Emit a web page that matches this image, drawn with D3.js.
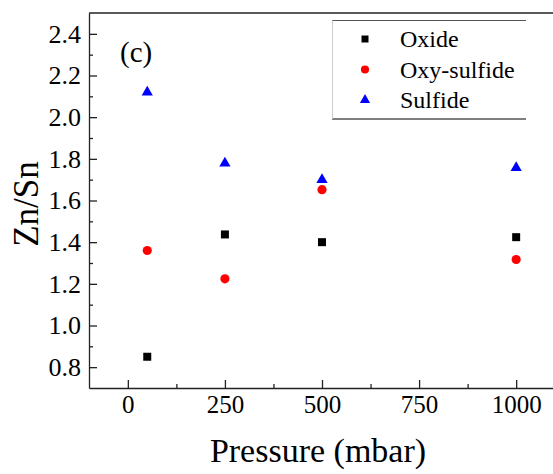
<!DOCTYPE html>
<html>
<head>
<meta charset="utf-8">
<script src="https://cdn.jsdelivr.net/npm/d3@7"></script>
<style>
  body { margin: 0; background: #fff; }
</style>
</head>
<body>
<div id="chart"></div>
<script>
// pressure (mbar) of each sample
var pressures = [50, 250, 500, 1000];
// Zn/Sn ratios
var oxide = [0.85, 1.437, 1.40, 1.424];
var oxySulfide = [1.36, 1.224, 1.652, 1.317];
var sulfide = [2.12, 1.779, 1.70, 1.757];

var seriesNames = ["Oxide", "Oxy-sulfide", "Sulfide"];
var seriesColors = ["#000000", "#ff0000", "#0000ff"];
var xTicks = [0, 250, 500, 750, 1000];
var xMinor = [125, 375, 625, 875];
var yTicks = [0.8, 1.0, 1.2, 1.4, 1.6, 1.8, 2.0, 2.2, 2.4];
var yMinor = [0.9, 1.1, 1.3, 1.5, 1.7, 1.9, 2.1, 2.3];

var serif = "Liberation Serif, DejaVu Serif, serif";

function init() {
    var w = 553;
    var h = 474;
    var left = 89, right = 555, top = 13, bottom = 388;

    var svg = d3.select("#chart")
        .append("svg")
        .attr("width", w)
        .attr("height", h)
        .attr("font-family", serif);

    var xScale = d3.scaleLinear().domain([-100, 1100]).range([left, right]);
    var yScale = d3.scaleLinear().domain([0.7, 2.5]).range([bottom, top]);

    // minor ticks first, under the axes
    svg.append("g")
        .attr("transform", `translate(0, ${bottom})`)
        .call(d3.axisBottom(xScale).tickValues(xMinor).tickSizeInner(-4).tickSizeOuter(0).tickFormat(""))
        .call(g => g.select(".domain").remove())
        .selectAll("line").attr("stroke", "#222").attr("stroke-width", 1.3);

    svg.append("g")
        .attr("transform", `translate(${left}, 0)`)
        .call(d3.axisLeft(yScale).tickValues(yMinor).tickSizeInner(-4).tickSizeOuter(0).tickFormat(""))
        .call(g => g.select(".domain").remove())
        .selectAll("line").attr("stroke", "#222").attr("stroke-width", 1.3);

    var xAxis = svg.append("g")
        .attr("transform", `translate(0, ${bottom})`)
        .call(d3.axisBottom(xScale).tickValues(xTicks).tickSizeInner(-8).tickSizeOuter(0).tickPadding(7)
            .tickFormat(d3.format("d")));
    xAxis.attr("font-family", serif).attr("font-size", 25);

    var yAxis = svg.append("g")
        .attr("transform", `translate(${left}, 0)`)
        .call(d3.axisLeft(yScale).tickValues(yTicks).tickSizeInner(-8).tickSizeOuter(0).tickPadding(8)
            .tickFormat(d3.format(".1f")));
    yAxis.attr("font-family", serif).attr("font-size", 26);

    svg.selectAll(".domain, .tick line").attr("stroke", "#222").attr("stroke-width", 1.3);

    // top frame line
    svg.append("line")
        .attr("x1", left).attr("x2", right)
        .attr("y1", top).attr("y2", top)
        .attr("stroke", "#222").attr("stroke-width", 1.3);

    // data points
    var allSeries = [oxide, oxySulfide, sulfide];
    var symbols = [
        d3.symbol().type(d3.symbolSquare).size(64),
        d3.symbol().type(d3.symbolCircle).size(66),
        d3.symbol().type(d3.symbolTriangle).size(55)
    ];

    allSeries.forEach((vals, i) => {
        svg.append("g")
            .selectAll("path")
            .data(vals)
            .enter()
            .append("path")
            .attr("d", symbols[i])
            .attr("transform", (d, j) => `translate(${xScale(pressures[j])}, ${yScale(d)})`)
            .attr("fill", seriesColors[i]);
    });

    // panel label
    svg.append("text")
        .attr("x", 120)
        .attr("y", 62)
        .attr("font-size", 29)
        .text("(c)");

    // legend
    var legend = svg.append("g");
    legend.append("line")
        .attr("x1", 332).attr("x2", 526).attr("y1", 20.5).attr("y2", 20.5)
        .attr("stroke", "#555").attr("stroke-width", 1);
    legend.append("line")
        .attr("x1", 332).attr("x2", 526).attr("y1", 119).attr("y2", 119)
        .attr("stroke", "#000").attr("stroke-width", 1.2);
    legend.append("line")
        .attr("x1", 332.5).attr("x2", 332.5).attr("y1", 20.5).attr("y2", 119)
        .attr("stroke", "#ccc").attr("stroke-width", 1);

    var legendSymbols = [
        d3.symbol().type(d3.symbolSquare).size(49),
        d3.symbol().type(d3.symbolCircle).size(52),
        d3.symbol().type(d3.symbolTriangle).size(45)
    ];
    seriesNames.forEach((name, i) => {
        var yy = 39 + i * 30.5;
        legend.append("path")
            .attr("d", legendSymbols[i])
            .attr("transform", `translate(365, ${yy})`)
            .attr("fill", seriesColors[i]);
        legend.append("text")
            .attr("x", 400)
            .attr("y", yy + 8)
            .attr("font-size", 24)
            .text(name);
    });

    // axis titles
    svg.append("text")
        .attr("x", 318)
        .attr("y", 462)
        .attr("text-anchor", "middle")
        .attr("font-size", 34)
        .text("Pressure (mbar)");

    svg.append("text")
        .attr("transform", "translate(38, 204) rotate(-90)")
        .attr("text-anchor", "middle")
        .attr("font-size", 35)
        .text("Zn/Sn");
}

window.onload = init;
</script>
</body>
</html>
